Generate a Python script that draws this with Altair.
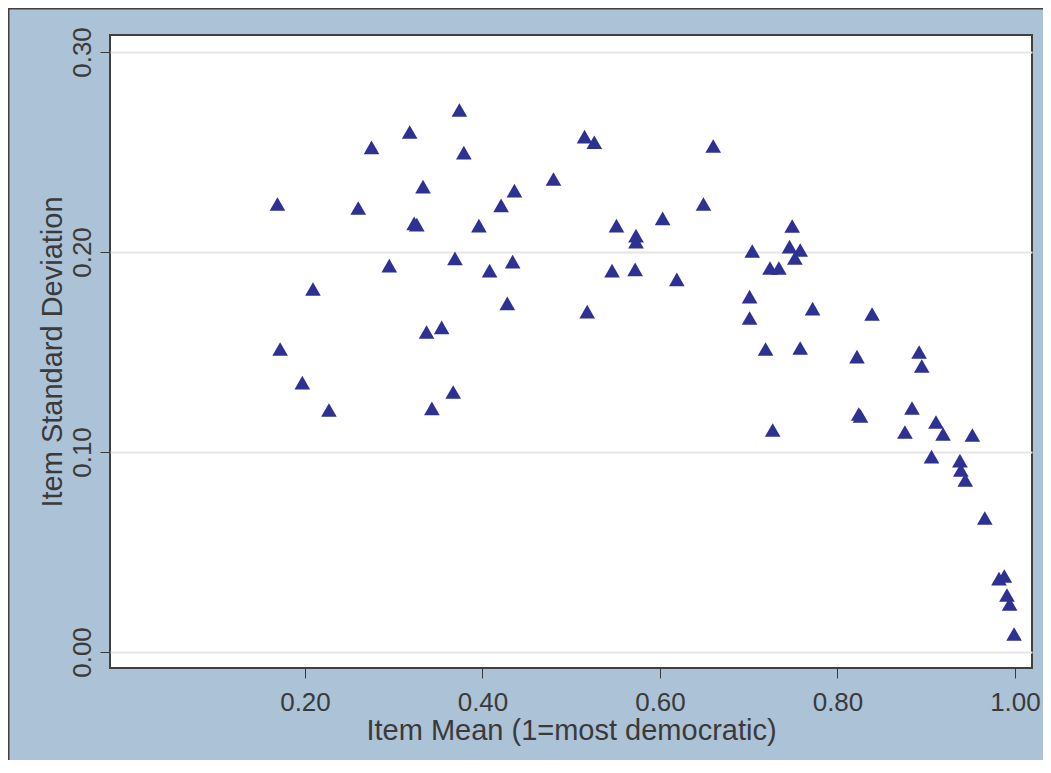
import altair as alt
import pandas as pd

item_mean = [
    0.169, 0.172, 0.209, 0.197, 0.227, 0.260, 0.275, 0.295, 0.318, 0.323,
    0.326, 0.333, 0.337, 0.354, 0.343, 0.367, 0.369, 0.374, 0.379, 0.396,
    0.408, 0.421, 0.436, 0.434, 0.428, 0.480, 0.515, 0.526, 0.518, 0.546,
    0.551, 0.573, 0.573, 0.572, 0.603, 0.619, 0.649, 0.660, 0.704, 0.701,
    0.701, 0.719, 0.724, 0.734, 0.749, 0.746, 0.758, 0.752, 0.727, 0.758,
    0.772, 0.822, 0.824, 0.826, 0.839, 0.876, 0.884, 0.892, 0.895, 0.906,
    0.911, 0.919, 0.952, 0.938, 0.939, 0.944, 0.966, 0.982, 0.988, 0.991,
    0.994, 0.999,
]
item_sd = [
    0.224, 0.1515, 0.1815, 0.1347, 0.121, 0.222, 0.2523, 0.1932, 0.260, 0.2143,
    0.2137, 0.2327, 0.160, 0.1623, 0.1218, 0.130, 0.1968, 0.271, 0.2497, 0.2132,
    0.1907, 0.2233, 0.2307, 0.1952, 0.1743, 0.2365, 0.2577, 0.2549, 0.1702, 0.1907,
    0.2132, 0.2082, 0.2052, 0.1913, 0.2168, 0.1863, 0.224, 0.253, 0.2005, 0.1777,
    0.167, 0.1515, 0.192, 0.192, 0.213, 0.2027, 0.201, 0.197, 0.111, 0.152,
    0.1717, 0.1477, 0.119, 0.118, 0.169, 0.110, 0.122, 0.150, 0.143, 0.0977,
    0.115, 0.109, 0.1085, 0.0957, 0.091, 0.086, 0.067, 0.0367, 0.038, 0.0285,
    0.024, 0.009,
]
x_ticks = [0.2, 0.4, 0.6, 0.8, 1.0]
y_ticks = [0.0, 0.1, 0.2, 0.3]

df = pd.DataFrame({"mean": item_mean, "sd": item_sd})

TEXT = "#3a3a3a"
W, H = 922, 633

points = alt.Chart(df).mark_point(
    shape="triangle-up", filled=True, size=245, color="#2d3192", opacity=1
).encode(
    x=alt.X(
        "mean:Q",
        scale=alt.Scale(domain=[-0.0197, 1.0192], nice=False, zero=False),
        axis=alt.Axis(
            values=x_ticks, format=".2f", grid=False, domain=False,
            tickSize=10, tickColor=TEXT, tickWidth=1,
            labelFontSize=26, labelColor=TEXT, labelPadding=11,
            labelBaseline="top", labelFont="Liberation Sans",
            title="Item Mean (1=most democratic)", titleFontSize=29,
            titleFontWeight="normal", titleColor=TEXT, titleFont="Liberation Sans",
            titleBaseline="alphabetic", titleAlign="center",
            titleX=W / 2, titleY=71,
        ),
    ),
    y=alt.Y(
        "sd:Q",
        scale=alt.Scale(domain=[-0.008, 0.3085], nice=False, zero=False),
        axis=alt.Axis(
            values=y_ticks, format=".2f", grid=True, gridColor="#e6e6e6",
            gridWidth=2, domain=False,
            tickSize=10, tickColor=TEXT, tickWidth=1,
            labelFontSize=26, labelColor=TEXT, labelPadding=10,
            labelAngle=270, labelAlign="center", labelBaseline="alphabetic",
            labelFont="Liberation Sans",
            title="Item Standard Deviation", titleFontSize=29,
            titleFontWeight="normal", titleColor=TEXT, titleFont="Liberation Sans",
            titleAngle=270, titleBaseline="alphabetic", titleAlign="center",
            titleX=-49, titleY=H / 2,
        ),
    ),
)

frame = alt.Chart(pd.DataFrame({"k": [0]})).mark_rect(
    filled=False, stroke="#404040", strokeWidth=1.5
).encode(
    x=alt.value(-101.25), x2=alt.value(980), y=alt.value(-26.25), y2=alt.value(800)
)

chart = alt.layer(frame, points).properties(
    width=W, height=H,
    padding={"left": 102, "top": 27, "right": 11, "bottom": 92},
    autosize=alt.AutoSizeParams(type="none"),
).configure(
    background="#acc2d6", font="Liberation Sans"
).configure_view(
    fill="white", stroke="#404040", strokeWidth=2
)

chart.save("out.html", embed_options={"renderer": "svg", "actions": False})
